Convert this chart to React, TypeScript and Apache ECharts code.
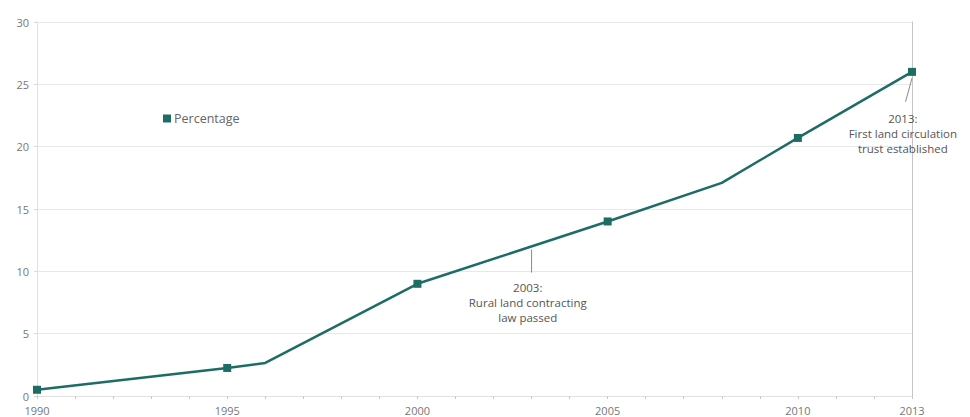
import React, { useEffect, useRef } from "react";
import * as echarts from "echarts";

const years = [1990, 1995, 1996, 2000, 2005, 2008, 2010, 2013];
const percentage = [0.5, 2.25, 2.65, 9.0, 14.0, 17.1, 20.7, 26.0];
const markerYears = [1990, 1995, 2000, 2005, 2010, 2013];
const xTickLabels = [1990, 1995, 2000, 2005, 2010, 2013];
const yTicks = [0, 5, 10, 15, 20, 25, 30];

const annotations = [
  {
    lines: ["2003:", "Rural land contracting", "law passed"],
    leaderFrom: [2003, 11.75],
    leaderTo: [2003, 9.9],
    textAt: [2002.9, 9.15],
  },
  {
    lines: ["2013:", "First land circulation", "trust established"],
    leaderFrom: [2013, 25.5],
    leaderTo: [2012.83, 23.6],
    textAt: [2012.76, 22.75],
  },
];

const FONT = "'Open Sans', 'DejaVu Sans', sans-serif";
const TEAL = "#1d6d65";

export default function App() {
  const ref = useRef<HTMLDivElement>(null);
  useEffect(() => {
    if (!ref.current) return;
    const chart = echarts.init(ref.current, undefined, { renderer: "svg" });
    const data = years.map((y, i) => ({
      value: [y, percentage[i]],
      symbol: markerYears.includes(y) ? "rect" : "none",
    }));
    chart.setOption({
      animation: false,
      textStyle: { fontFamily: FONT },
      grid: { left: 37, right: 58, top: 22, bottom: 21, containLabel: false },
      legend: {
        left: 158,
        top: 107,
        icon: "rect",
        itemWidth: 8,
        itemHeight: 8,
        itemGap: 4,
        textStyle: { color: "#666", fontSize: 12.5, fontFamily: FONT, padding: [0, 0, 0, -2] },
        data: ["Percentage"],
      },
      xAxis: {
        type: "value",
        min: 1990,
        max: 2013,
        interval: 1,
        axisLine: { show: true, lineStyle: { color: "#e0e0e0" } },
        axisTick: { show: true, length: 3, lineStyle: { color: "#c8c8c8" } },
        splitLine: { show: false },
        axisLabel: {
          color: "#777",
          fontSize: 11,
          margin: 9,
          fontFamily: FONT,
          formatter: (v: number) => (xTickLabels.includes(v) ? String(v) : ""),
        },
      },
      yAxis: [
        {
          type: "value",
          min: 0,
          max: 30,
          interval: 5,
          axisLine: { show: true, lineStyle: { color: "#e0e0e0" } },
          axisTick: { show: true, length: 3, lineStyle: { color: "#d8d8d8" } },
          splitLine: { show: true, lineStyle: { color: "#e8e8e8" } },
          axisLabel: {
            color: "#777",
            fontSize: 11,
            margin: 8,
            fontFamily: FONT,
            formatter: (v: number) => (yTicks.includes(v) ? String(v) : ""),
          },
        },
        {
          type: "value",
          min: 0,
          max: 30,
          interval: 5,
          position: "right",
          axisLine: { show: true, lineStyle: { color: "#c4c4c4" } },
          axisTick: { show: false },
          splitLine: { show: false },
          axisLabel: { show: false },
        },
      ],
      series: [
        {
          name: "Percentage",
          type: "line",
          data,
          symbolSize: 8,
          itemStyle: { color: TEAL },
          lineStyle: { color: TEAL, width: 2.5 },
          z: 3,
        },
      ],
    });

    const px = (p: number[]) => chart.convertToPixel({ gridIndex: 0 }, p) as number[];
    const graphics: any[] = [];
    annotations.forEach((a) => {
      const f = px(a.leaderFrom);
      const t = px(a.leaderTo);
      graphics.push({
        type: "line",
        shape: { x1: f[0], y1: f[1], x2: t[0], y2: t[1] },
        style: { stroke: "#8a8a8a", lineWidth: 1 },
        z: 10,
      });
      const tp = px(a.textAt);
      a.lines.forEach((line, i) => {
        graphics.push({
          type: "text",
          x: tp[0],
          y: tp[1] + i * 15,
          style: {
            text: line,
            fill: "#555",
            font: `11.5px ${FONT}`,
            align: "center",
            verticalAlign: "top",
          },
          z: 10,
        });
      });
    });
    chart.setOption({ graphic: graphics });

    return () => chart.dispose();
  }, []);
  return <div ref={ref} style={{ width: 970, height: 417, position: "absolute", left: 0, top: 0 }} />;
}
